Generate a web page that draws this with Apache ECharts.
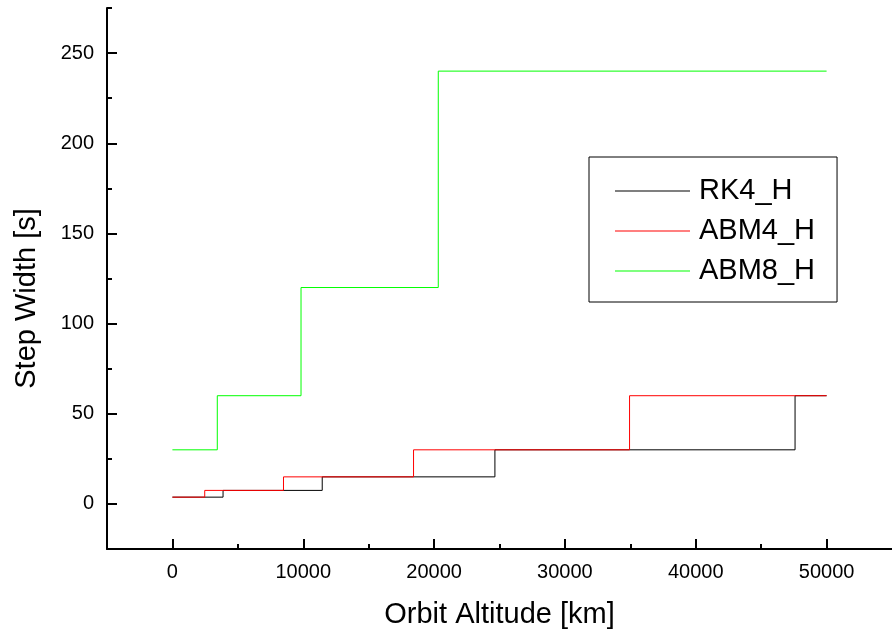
<!DOCTYPE html>
<html>
<head>
<meta charset="utf-8">
<title>Step Width vs Orbit Altitude</title>
<script src="https://cdn.jsdelivr.net/npm/echarts@6/dist/echarts.min.js"></script>
<style>
  html, body { margin: 0; padding: 0; background: #ffffff; }
  #chart { width: 892px; height: 634px; }
</style>
</head>
<body>
<div id="chart"></div>
<script>
// Step width per integrator: each altitude marks where a new step width begins
const seriesNames = ['RK4_H', 'ABM4_H', 'ABM8_H'];
const rk4Alt  = [0, 3870, 11450, 24650, 47590, 50000];
const rk4Step = [3.75, 7.5, 15, 30, 60, 60];
const abm4Alt  = [0, 2470, 8490, 18430, 34940, 50000];
const abm4Step = [3.75, 7.5, 15, 30, 60, 60];
const abm8Alt  = [0, 3430, 9830, 20320, 50000];
const abm8Step = [30, 60, 120, 240, 240];

// Axis ticks
const xMajorTicks = [0, 10000, 20000, 30000, 40000, 50000];
const xMinorTicks = [-5000, 5000, 15000, 25000, 35000, 45000];
const yMajorTicks = [0, 50, 100, 150, 200, 250];
const yMinorTicks = [25, 75, 125, 175, 225, 275];

const FONT = '"Liberation Sans", Arial, sans-serif';
const lineColors = ['#000000', '#ff0000', '#00ff00'];

function pairs(xs, ys) {
  return xs.map((x, i) => [x, ys[i]]);
}
const plain = v => String(v);

const xRange = { min: -5000, max: 55000 };
const yRange = { min: -25, max: 275 };

const chart = echarts.init(document.getElementById('chart'), null, { renderer: 'canvas' });

const option = {
  animation: false,
  backgroundColor: '#ffffff',
  textStyle: { fontFamily: FONT, color: '#000' },
  // the plot area runs a little past the right edge of the canvas
  grid: { left: 107, top: 8, width: 790, bottom: 82, containLabel: false },
  legend: {
    orient: 'vertical',
    left: 589,
    top: 157,
    padding: [19, 22, 16, 26],
    icon: 'rect',
    itemWidth: 75,
    itemHeight: 1,
    itemGap: 10,
    borderColor: '#000',
    borderWidth: 1,
    backgroundColor: '#ffffff',
    textStyle: { fontFamily: FONT, fontSize: 29, color: '#000', lineHeight: 30, padding: [0, 0, 0, 4] },
    data: seriesNames
  },
  xAxis: [
    {
      type: 'value',
      position: 'bottom',
      min: xRange.min,
      max: xRange.max,
      name: 'Orbit Altitude [km]',
      nameLocation: 'middle',
      nameGap: 51,
      nameTextStyle: { fontFamily: FONT, fontSize: 29, color: '#000' },
      axisLine: { show: true, onZero: false, lineStyle: { color: '#000', width: 2 } },
      axisTick: { show: true, inside: true, length: 10, lineStyle: { color: '#000', width: 2 }, customValues: xMajorTicks },
      axisLabel: { show: true, margin: 13, fontFamily: FONT, fontSize: 20, color: '#000', customValues: xMajorTicks, formatter: plain },
      splitLine: { show: false }
    },
    {
      type: 'value',
      position: 'bottom',
      min: xRange.min,
      max: xRange.max,
      axisLine: { show: false, onZero: false },
      axisTick: { show: true, inside: true, length: 5, lineStyle: { color: '#000', width: 2 }, customValues: xMinorTicks },
      axisLabel: { show: false },
      splitLine: { show: false }
    }
  ],
  yAxis: [
    {
      type: 'value',
      position: 'left',
      min: yRange.min,
      max: yRange.max,
      name: 'Step Width [s]',
      nameLocation: 'middle',
      nameGap: 66,
      nameTextStyle: { fontFamily: FONT, fontSize: 29, color: '#000', padding: [0, 40, 0, 0] },
      axisLine: { show: true, onZero: false, lineStyle: { color: '#000', width: 2 } },
      axisTick: { show: true, inside: true, length: 10, lineStyle: { color: '#000', width: 2 }, customValues: yMajorTicks },
      axisLabel: { show: true, margin: 13, fontFamily: FONT, fontSize: 20, color: '#000', customValues: yMajorTicks, formatter: plain },
      splitLine: { show: false }
    },
    {
      type: 'value',
      position: 'left',
      min: yRange.min,
      max: yRange.max,
      axisLine: { show: false, onZero: false },
      axisTick: { show: true, inside: true, length: 5, lineStyle: { color: '#000', width: 2 }, customValues: yMinorTicks },
      axisLabel: { show: false },
      splitLine: { show: false }
    }
  ],
  series: [
    { name: seriesNames[0], data: pairs(rk4Alt, rk4Step) },
    { name: seriesNames[1], data: pairs(abm4Alt, abm4Step) },
    { name: seriesNames[2], data: pairs(abm8Alt, abm8Step) }
  ].map((s, i) => Object.assign({
    type: 'line',
    xAxisIndex: 0,
    yAxisIndex: 0,
    step: 'end',
    symbol: 'none',
    color: lineColors[i],
    lineStyle: { color: lineColors[i], width: 1 },
    clip: false
  }, s))
};

chart.setOption(option);
</script>
</body>
</html>
